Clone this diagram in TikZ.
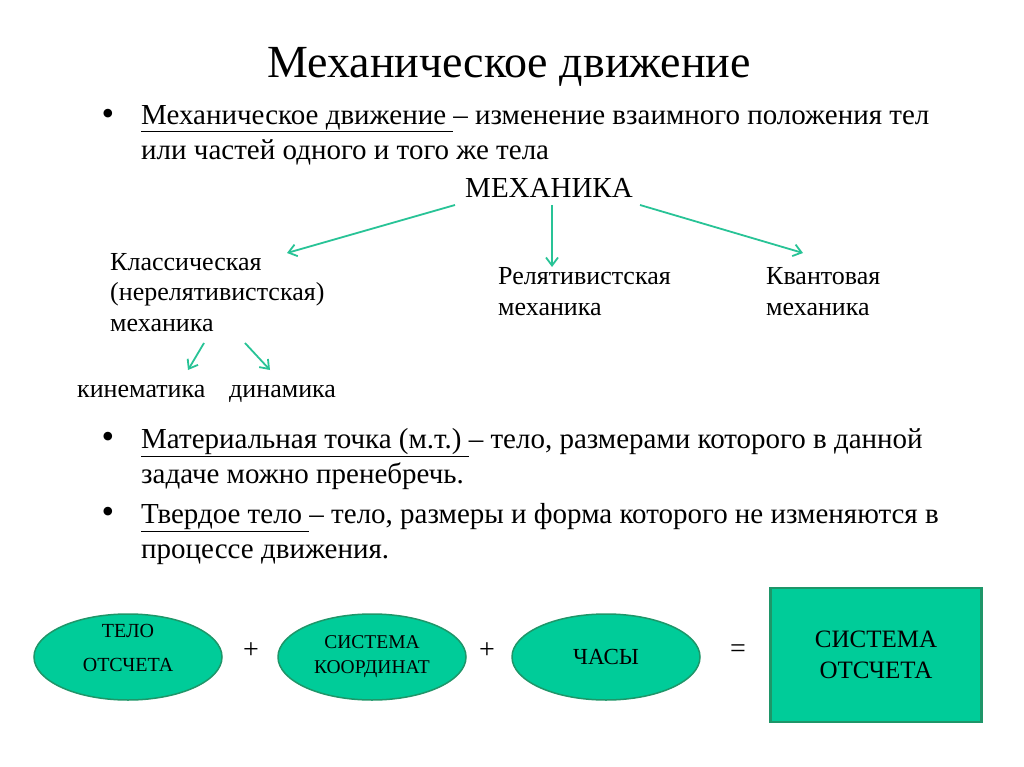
\documentclass[tikz,border=0pt]{standalone}
\usepackage{fontspec}
\setmainfont{Liberation Serif}
\usetikzlibrary{shapes,arrows.meta}
\definecolor{teal1}{RGB}{0,204,153}
\definecolor{tealdark}{RGB}{30,150,105}
\definecolor{arrowc}{RGB}{40,195,150}
\newcommand{\fs}[1]{\fontsize{#1}{1.3\dimexpr #1pt\relax}\selectfont}
\begin{document}
\begin{tikzpicture}[x=1pt,y=-1pt,
  txt/.style={inner sep=0pt,font=\fs{26}},
  bul/.style={inner sep=0pt,anchor=north west,align=left,font=\fontsize{29}{35}\selectfont},
  dot/.style={inner sep=0pt,font=\fs{36}},
  link/.style={draw=arrowc,line width=1.8pt,-{Straight Barb[length=8pt,width=12pt]}},
  oval/.style={ellipse,draw=tealdark,line width=1.5pt,fill=teal1,minimum width=188pt,minimum height=86pt,align=center,inner sep=-12pt},
  op/.style={inner sep=0pt,font=\fs{28}}]
		\useasboundingbox (0,0) rectangle (1024,767);
		\node (title)[inner sep=0pt,font=\fs{46}] at (509,67) {Механическое движение};
		\node (b1)[dot] at (108,117) {•};
		\node (def1)[bul] at (141,105) {\underline{Механическое движение\ }– изменение взаимного положения тел\\или частей одного и того же тела};
		\node (mech)[txt,font=\fs{29}] at (549,188) {МЕХАНИКА};
		\node (classic)[txt,anchor=north west,align=left,font=\fontsize{26}{30.5}\selectfont] at (110,253) {Классическая\\(нерелятивистская)\\механика};
		\node (rel)[txt,anchor=north west,align=left,font=\fontsize{26}{31}\selectfont] at (498,267) {Релятивистская\\механика};
		\node (quant)[txt,anchor=north west,align=left,font=\fontsize{26}{31}\selectfont] at (766,267) {Квантовая\\механика};
		\node (kin)[txt,anchor=base west] at (77,397) {кинематика};
		\node (dyn)[txt,anchor=base west] at (229,397) {динамика};
		\coordinate (m1) at (455,205);
		\coordinate (m2) at (552,205);
		\coordinate (m3) at (640,205);
		\coordinate (c1) at (204,343);
		\coordinate (c2) at (245,343);
		\draw[link] (m1) -- (287,253);
		\draw[link] (m2) -- (552,267);
		\draw[link] (m3) -- (803,253);
		\draw[link] (c1) -- (188,370);
		\draw[link] (c2) -- (270,370);
		\node (b2)[dot] at (108,440) {•};
		\node (mt)[bul] at (141,428) {\underline{Материальная точка (м.т.)\ }– тело, размерами которого в данной\\задаче можно пренебречь.};
		\node (b3)[dot] at (108,515) {•};
		\node (solid)[bul] at (141,503) {\underline{Твердое тело\ }– тело, размеры и форма которого не изменяются в\\процессе движения.};
		\node (body)[oval,font=\fontsize{20}{34}\selectfont,text depth=18pt] at (128,657) {ТЕЛО\\ОТСЧЕТА};
		\node (plus1)[op] at (251,651) {+};
		\node (coords)[oval,font=\fontsize{19.5}{25}\selectfont] at (372,657) {СИСТЕМА\\КООРДИНАТ};
		\node (plus2)[op] at (487,651) {+};
		\node (clock)[oval,font=\fs{23}] at (606,657) {ЧАСЫ};
		\node (eq)[op] at (738,651) {=};
		\node (frame)[draw=tealdark,line width=2.5pt,fill=teal1,minimum width=211pt,minimum height=134pt,align=center,inner sep=0pt,font=\fontsize{25}{31}\selectfont] at (876,655) {СИСТЕМА\\ОТСЧЕТА};
\end{tikzpicture}
\end{document}
